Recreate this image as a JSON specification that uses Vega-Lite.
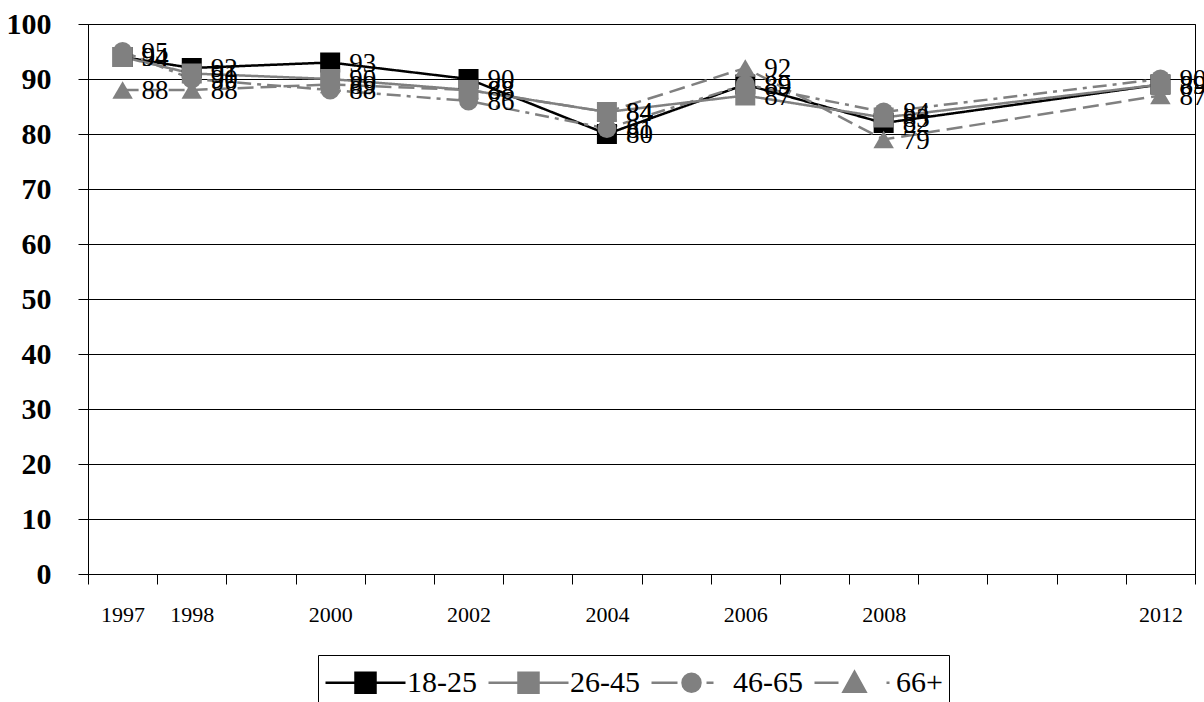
{
  "$schema": "https://vega.github.io/schema/vega-lite/v6.json",
  "width": 1107,
  "height": 550,
  "autosize": {"type": "none"},
  "padding": {"left": 88, "top": 24, "right": 9, "bottom": 128},
  "background": "white",
  "config": {"view": {"stroke": "black", "strokeWidth": 1}, "font": "Liberation Serif"},
  "data": {"values": [
    {"year": 1997, "series": "18-25", "value": 94},
    {"year": 1998, "series": "18-25", "value": 92},
    {"year": 2000, "series": "18-25", "value": 93},
    {"year": 2002, "series": "18-25", "value": 90},
    {"year": 2004, "series": "18-25", "value": 80},
    {"year": 2006, "series": "18-25", "value": 89},
    {"year": 2008, "series": "18-25", "value": 82},
    {"year": 2012, "series": "18-25", "value": 89},
    {"year": 1997, "series": "26-45", "value": 94},
    {"year": 1998, "series": "26-45", "value": 91},
    {"year": 2000, "series": "26-45", "value": 90},
    {"year": 2002, "series": "26-45", "value": 88},
    {"year": 2004, "series": "26-45", "value": 84},
    {"year": 2006, "series": "26-45", "value": 87},
    {"year": 2008, "series": "26-45", "value": 83},
    {"year": 2012, "series": "26-45", "value": 89},
    {"year": 1997, "series": "46-65", "value": 95},
    {"year": 1998, "series": "46-65", "value": 90},
    {"year": 2000, "series": "46-65", "value": 88},
    {"year": 2002, "series": "46-65", "value": 86},
    {"year": 2004, "series": "46-65", "value": 81},
    {"year": 2006, "series": "46-65", "value": 89},
    {"year": 2008, "series": "46-65", "value": 84},
    {"year": 2012, "series": "46-65", "value": 90},
    {"year": 1997, "series": "66+", "value": 88},
    {"year": 1998, "series": "66+", "value": 88},
    {"year": 2000, "series": "66+", "value": 89},
    {"year": 2002, "series": "66+", "value": 88},
    {"year": 2004, "series": "66+", "value": 84},
    {"year": 2006, "series": "66+", "value": 92},
    {"year": 2008, "series": "66+", "value": 79},
    {"year": 2012, "series": "66+", "value": 87}
  ]},
  "encoding": {
    "x": {
      "field": "year", "type": "ordinal",
      "scale": {"type": "band", "domain": [1997, 1998, 1999, 2000, 2001, 2002, 2003, 2004, 2005, 2006, 2007, 2008, 2009, 2010, 2011, 2012], "paddingInner": 0, "paddingOuter": 0},
      "axis": {
        "title": null, "grid": false, "tickBand": "extent",
        "labelExpr": "indexof(['1997','1998','2000','2002','2004','2006','2008','2012'], datum.label) >= 0 ? datum.label : ''",
        "labelAngle": 0,
        "domainColor": "black", "tickColor": "black", "tickSize": 10, "tickWidth": 1,
        "labelFont": "Liberation Serif", "labelFontSize": 22, "labelColor": "black",
        "labelPadding": 20, "labelOverlap": false, "labelFlush": false, "labelBound": false
      }
    },
    "y": {
      "field": "value", "type": "quantitative",
      "scale": {"domain": [0, 100], "nice": false},
      "axis": {
        "title": null, "values": [0, 10, 20, 30, 40, 50, 60, 70, 80, 90, 100],
        "grid": true, "gridColor": "black", "gridOpacity": 1, "gridWidth": 1,
        "domainColor": "black", "tickColor": "black", "tickSize": 10,
        "labelFont": "Liberation Serif", "labelFontWeight": "bold", "labelFontSize": 30,
        "labelColor": "black", "labelPadding": 27
      }
    }
  },
  "layer": [
    {
      "mark": {"type": "line", "strokeWidth": 2.5},
      "encoding": {
        "color": {"field": "series", "type": "nominal", "scale": {"range": ["#000000", "#808080", "#808080", "#808080"]}, "legend": null},
        "strokeDash": {"field": "series", "type": "nominal", "scale": {"range": [[1, 0], [1, 0], [14, 6, 4, 6], [16, 7]]}, "legend": null}
      }
    },
    {
      "transform": [{"filter": {"field": "series", "oneOf": ["18-25", "26-45"]}}],
      "mark": {"type": "point", "shape": "square", "filled": true, "size": 400, "opacity": 1},
      "encoding": {"color": {"field": "series", "type": "nominal", "legend": null}}
    },
    {
      "transform": [{"filter": {"field": "series", "equal": "46-65"}}],
      "mark": {"type": "point", "shape": "circle", "filled": true, "size": 360, "opacity": 1},
      "encoding": {"color": {"field": "series", "type": "nominal", "legend": null}}
    },
    {
      "transform": [{"filter": {"field": "series", "equal": "66+"}}],
      "mark": {"type": "point", "shape": "triangle-up", "filled": true, "size": 420, "opacity": 1},
      "encoding": {"color": {"field": "series", "type": "nominal", "legend": null}}
    },
    {
      "mark": {"type": "text", "align": "left", "baseline": "middle", "dx": 19, "dy": 1, "fontSize": 27, "font": "Liberation Serif", "color": "black"},
      "encoding": {"text": {"field": "value", "type": "quantitative"}}
    },
    {
      "mark": {"type": "point", "filled": true, "opacity": 0},
      "encoding": {
        "fill": {"field": "series", "type": "nominal", "scale": {"domain": ["18-25", "26-45", "46-65", "66+"], "range": ["#000000", "#808080", "#808080", "#808080"]}},
        "stroke": {"field": "series", "type": "nominal", "scale": {"domain": ["18-25", "26-45", "46-65", "66+"], "range": ["#000000", "#808080", "#808080", "#808080"]}},
        "shape": {
          "field": "series", "type": "nominal",
          "scale": {"domain": ["18-25", "26-45", "46-65", "66+"], "range": [
            "M-1,0H0.5M1.5,0H3M0.5,-0.5H1.5V0.5H0.5Z",
            "M-1,0H0.5M1.5,0H3M0.5,-0.5H1.5V0.5H0.5Z",
            "M-1,0H0.3M1.75,0H2.1M0.55,0A0.45,0.45 0 1,0 1.45,0A0.45,0.45 0 1,0 0.55,0Z",
            "M-1,0H0.2M2.6,0H2.75M1,-0.55L1.55,0.45H0.45Z"
          ]},
          "legend": {
            "title": null, "orient": "none", "legendX": 230, "legendY": 631, "direction": "horizontal",
            "symbolSize": 1600, "symbolStrokeWidth": 2.5, "symbolOpacity": 1,
            "labelFont": "Liberation Serif", "labelFontSize": 30, "labelColor": "black", "labelOffset": 40,
            "columnPadding": 6, "strokeColor": "black", "padding": 6
          }
        }
      }
    }
  ]
}
